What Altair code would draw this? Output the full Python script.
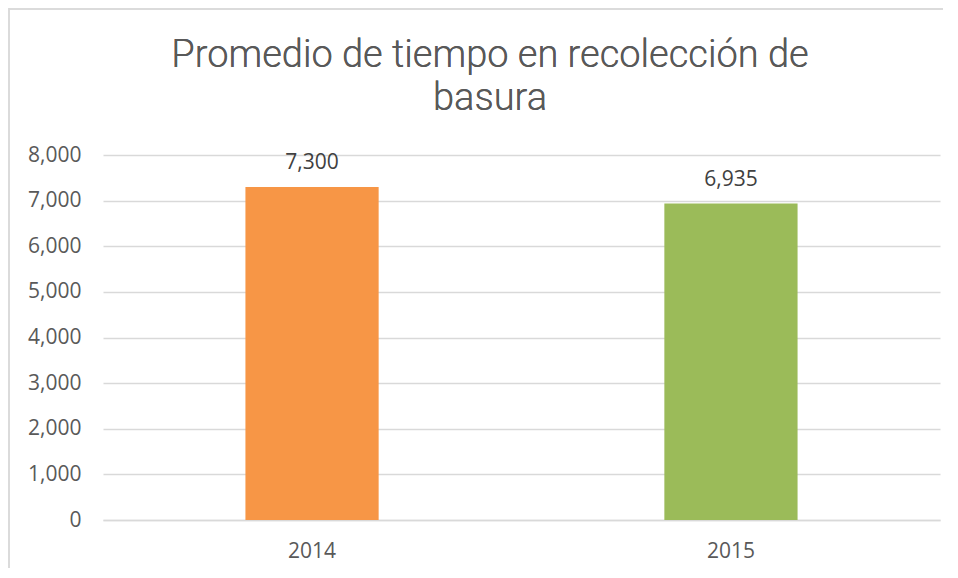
import altair as alt
import pandas as pd

years = ["2014", "2015"]
values = [7300, 6935]
colors = ["#F79646", "#9BBB59"]

title_lines = ["Promedio de tiempo en recolección de", "basura"]

df = pd.DataFrame({"year": years, "value": values, "color": colors})

x_enc = alt.X("year:N", title=None, sort=years,
              scale=alt.Scale(paddingInner=0.682, paddingOuter=0.34),
              axis=alt.Axis(labelAngle=0, domain=True, domainColor="#d9d9d9", domainWidth=1.5,
                            ticks=False, labelPadding=20, labelFontSize=21,
                            labelFont="Open Sans", labelColor="#595959"))
y_enc = alt.Y("value:Q", title=None,
              scale=alt.Scale(domain=[0, 8000], nice=False),
              axis=alt.Axis(values=[0, 1000, 2000, 3000, 4000, 5000, 6000, 7000, 8000],
                            format=",d", domain=False, ticks=False, labelPadding=22,
                            labelFontSize=21, labelFont="Open Sans", labelColor="#595959",
                            grid=True, gridColor="#d9d9d9", gridWidth=1.5))

base = alt.Chart(df)

bars = base.mark_bar().encode(
    x=x_enc, y=y_enc,
    color=alt.Color("color:N", scale=None),
)

labels = base.mark_text(baseline="alphabetic", dy=-18, fontSize=21, font="Open Sans",
                        color="#404040").encode(
    x=alt.X("year:N", sort=years), y=alt.Y("value:Q"),
    text=alt.Text("value:Q", format=","),
)

title = alt.Chart(df).mark_text(
    baseline="alphabetic", align="center", fontSize=38, font="Roboto", fontWeight=300,
    color="#595959", lineHeight=43,
).encode(
    x=alt.value(387), y=alt.value(-88), text=alt.value(title_lines),
)

border_left = alt.Chart(df).mark_rule(color="#d9d9d9", strokeWidth=1.5).encode(
    x=alt.value(-94), y=alt.value(-147), y2=alt.value(420))
border_top = alt.Chart(df).mark_rule(color="#d9d9d9", strokeWidth=1.5).encode(
    x=alt.value(-94), x2=alt.value(840), y=alt.value(-146))

chart = alt.layer(border_left, border_top, bars, labels, title).properties(
    width=837, height=365,
    autosize=alt.AutoSizeParams(type="none"),
    padding={"left": 95, "top": 147, "right": 8, "bottom": 48},
).configure_view(stroke=None)

chart.save("out.html", embed_options={"renderer": "svg", "actions": False})
